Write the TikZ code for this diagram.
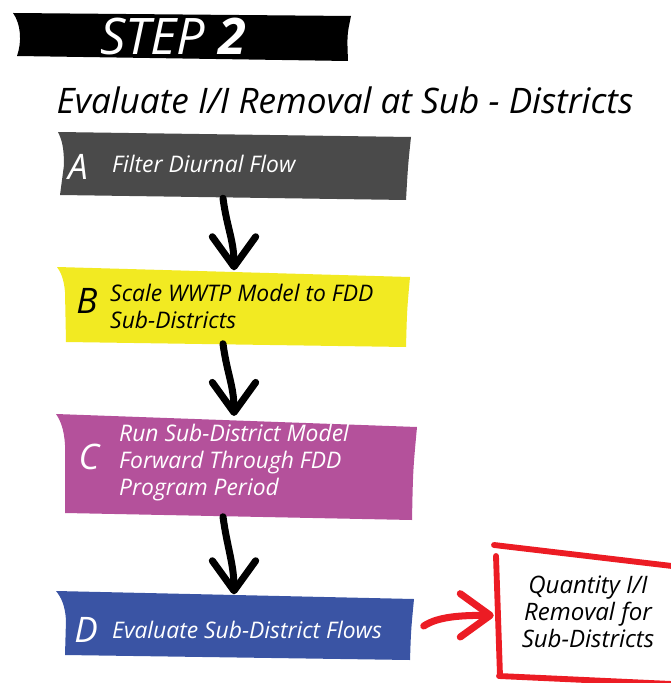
\documentclass[tikz,border=0pt]{standalone}
\usepackage{fontspec}
\setmainfont{Open Sans}
\usetikzlibrary{arrows.meta}
\definecolor{filtergray}{HTML}{4A4A4A}
\definecolor{scaleyellow}{HTML}{F2EA22}
\definecolor{runpurple}{HTML}{B4519B}
\definecolor{evalblue}{HTML}{3A54A4}
\definecolor{quantred}{HTML}{EC1C24}
\begin{document}
\begin{tikzpicture}[x=0.03cm, y=-0.03cm,
  stepbox/.style={minimum width=10.65cm, inner sep=0pt},
  letter/.style={font=\itshape\fontsize{30}{30}\selectfont, inner sep=0pt},
  steptext/.style={font=\itshape\fontsize{19.5}{23}\selectfont, align=left, anchor=west, inner sep=0pt},
  flow/.style={line width=6pt, line cap=round, -{Straight Barb[length=0.9cm, width=1.3cm, round]}},
  redline/.style={draw=quantred, line width=5pt, line cap=round}
  ]
  \useasboundingbox (0,0) rectangle (670,683);
  \fill (13,13) -- (351,16) .. controls (347,35) .. (348,61) -- (17,56) .. controls (22,42) and (21,24) .. cycle;
  \node[text=white, font=\itshape\fontsize{43}{43}\selectfont] (step) at (173,37) {STEP \textbf{2}};
  \node[font=\itshape\fontsize{30}{30}\selectfont] (title) at (345,100) {Evaluate I/I Removal at Sub - Districts};

  \fill[filtergray] (58,132) -- (411,137) .. controls (408,165) .. (406,200) -- (60,195) -- (64,165) .. controls (64,148) and (62,140) .. cycle;
  \node[stepbox, minimum height=1.92cm] (filter) at (234,166) {};
  \node[letter, text=white] (filterA) at (78,167) {A};
  \node[steptext, text=white] (filtertxt) at (112,164) {Filter Diurnal Flow};

  \fill[scaleyellow] (57,267) -- (410,277) .. controls (407,310) .. (406,347) -- (66,342) -- (65,292) .. controls (64,280) and (61,272) .. cycle;
  \node[stepbox, minimum height=2.19cm] (scale) at (234,307) {};
  \node[letter] (scaleB) at (87,301) {B};
  \node[steptext] (scaletxt) at (110,306) {Scale WWTP Model to FDD\\Sub-Districts};

  \fill[runpurple] (56,414) -- (417,427) .. controls (413,470) .. (412,520) -- (65,513) -- (65,445) .. controls (64,428) and (60,420) .. cycle;
  \node[stepbox, minimum height=2.91cm] (run) at (234,468) {};
  \node[letter, text=white] (runC) at (89,457) {C};
  \node[steptext, text=white] (runtxt) at (119,463) {Run Sub-District Model\\Forward Through FDD\\Program Period};

  \fill[evalblue] (56,591) -- (414,599) .. controls (411,630) .. (410,660) -- (65,655) -- (66,620) .. controls (65,605) and (61,597) .. cycle;
  \node[stepbox, minimum height=1.89cm] (evaluate) at (234,626) {};
  \node[letter, text=white] (evaluateD) at (86,630) {D};
  \node[steptext, text=white] (evaluatetxt) at (112,630) {Evaluate Sub-District Flows};

  \node[minimum width=5.64cm, minimum height=3.9cm, inner sep=0pt, align=center,
        font=\itshape\fontsize{20.5}{23}\selectfont] (quant) at (588,612) {Quantity I/I\\Removal for\\Sub-Districts};
  \draw[redline] (494,545) -- (672,566);
  \draw[redline] (496,556) -- (500,676);
  \draw[redline] (499,676) -- (672,684);

  \draw[flow] ([xshift=-0.33cm]filter.south) .. controls +(4,30) and +(0,-30) .. (scale.north);
  \draw[flow] ([xshift=-0.33cm]scale.south) .. controls +(4,30) and +(0,-30) .. ([yshift=0.1cm]run.north);
  \draw[flow] ([xshift=-0.33cm]run.south) .. controls +(4,30) and +(0,-30) .. (evaluate.north);
  \draw[flow, quantred] ([xshift=0.36cm]evaluate.east) .. controls +(15,-10) and +(-30,0) .. ([yshift=-0.1cm]quant.west);
\end{tikzpicture}
\end{document}
